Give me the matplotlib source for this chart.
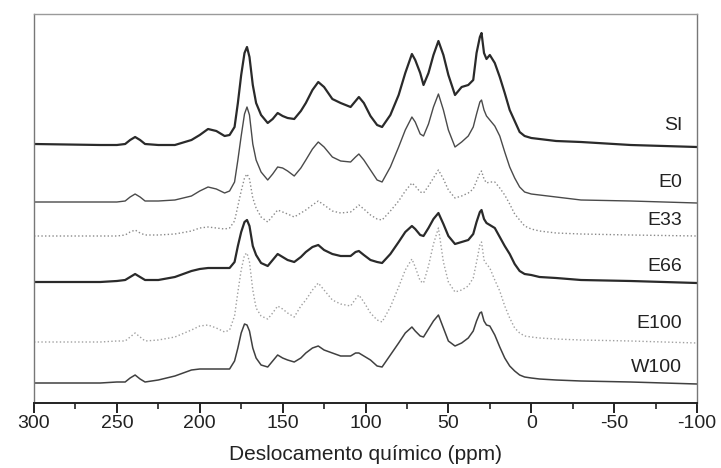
## load libraries
import matplotlib
matplotlib.use("Agg")
import matplotlib.pyplot as plt
from matplotlib.ticker import MultipleLocator

plt.rcParams['font.family'] = ['Liberation Sans', 'DejaVu Sans']

ppm = [300, 260, 250, 245, 242, 239, 236, 233, 225, 215,
       205, 200, 195, 190, 185, 182, 179, 177, 175, 173,
       171.5, 170, 168, 166, 163, 159, 156, 153, 150, 147,
       143, 139, 136, 132, 128.5, 125, 120, 115, 109, 106,
       104, 101, 97, 93, 90, 85, 80, 76, 72, 70,
       67, 65, 62, 59, 56, 53, 50, 46, 42, 38,
       35, 33, 31, 30, 28.5, 27, 25, 22, 19, 16,
       13, 10, 7, 4, 0, -5, -15, -30, -60, -100]

# intensities (arbitrary units) above each baseline
si = [1, 0, 0, 1, 5, 8, 5, 1, 0, 0,
      5, 10, 16, 14, 9, 10, 18, 42, 70, 92,
      98, 88, 60, 42, 30, 22, 26, 32, 29, 27,
      26, 34, 42, 55, 63, 58, 46, 42, 38, 44,
      48, 42, 29, 20, 18, 30, 50, 72, 91, 85,
      72, 60, 72, 90, 104, 90, 70, 50, 58, 60,
      65, 92, 108, 112, 92, 86, 90, 82, 68, 52,
      35, 24, 13, 9, 7, 6, 4, 3, 0, -2]
e0 = [0, 0, 0, 1, 5, 8, 5, 1, 1, 2,
      6, 11, 15, 13, 9, 11, 20, 42, 66, 88,
      95, 87, 58, 42, 30, 22, 28, 35, 34, 31,
      26, 34, 42, 53, 60, 55, 45, 41, 40, 45,
      48, 42, 32, 22, 20, 35, 55, 72, 85, 80,
      68, 66, 78, 95, 108, 92, 72, 55, 60, 66,
      75, 88, 100, 102, 92, 86, 82, 76, 66, 50,
      35, 24, 15, 10, 8, 7, 5, 2, 1, -1]
e33 = [0, 0, 0, 1, 4, 6, 3, 1, 1, 2,
       5, 8, 9, 8, 7, 8, 15, 30, 45, 58,
       62, 57, 38, 28, 19, 14, 20, 26, 24, 22,
       19, 23, 26, 31, 35, 31, 25, 23, 24, 28,
       31, 27, 21, 17, 16, 25, 35, 45, 53, 50,
       44, 43, 50, 58, 66, 57, 46, 38, 40, 43,
       47, 55, 63, 65, 57, 53, 54, 54, 48, 41,
       32, 22, 16, 10, 7, 5, 3, 2, 1, 0]
e66 = [0, 0, 1, 2, 5, 8, 5, 2, 2, 5,
       11, 13, 14, 14, 14, 14, 20, 36, 50, 60,
       62, 56, 36, 27, 19, 16, 22, 28, 25, 22,
       20, 25, 30, 35, 37, 32, 28, 26, 26, 30,
       31, 27, 22, 20, 19, 28, 40, 50, 56, 53,
       47, 46, 54, 63, 69, 58, 46, 38, 40, 42,
       48, 60, 70, 72, 63, 59, 57, 54, 45, 36,
       28, 18, 11, 8, 7, 5, 4, 2, 1, -1]
e100 = [0, 0, 1, 1, 5, 9, 5, 1, 2, 5,
        12, 16, 17, 14, 10, 12, 26, 50, 72, 87,
        89, 80, 52, 34, 26, 23, 29, 36, 33, 29,
        25, 36, 42, 52, 59, 52, 42, 38, 36, 43,
        47, 40, 29, 22, 20, 35, 55, 72, 83, 75,
        61, 59, 76, 98, 114, 80, 60, 50, 52, 56,
        64, 80, 97, 100, 82, 78, 74, 62, 51, 36,
        24, 14, 9, 6, 5, 4, 3, 2, 1, -1]
w100 = [0, 0, 1, 1, 5, 8, 4, 1, 3, 7,
        13, 14, 14, 14, 14, 14, 22, 35, 50, 59,
        58, 52, 35, 25, 18, 16, 22, 28, 25, 23,
        21, 25, 30, 35, 37, 33, 30, 27, 27, 30,
        30, 27, 23, 17, 16, 28, 40, 50, 56, 52,
        47, 46, 54, 62, 68, 55, 42, 37, 40, 45,
        52, 62, 70, 71, 62, 58, 57, 48, 36, 25,
        17, 12, 8, 6, 5, 4, 3, 2, 1, -1]

names = ['SI', 'E0', 'E33', 'E66', 'E100', 'W100']
spectra = [si, e0, e33, e66, e100, w100]
offsets = [258, 201, 167, 121, 61, 20]
label_y = [278, 221, 183, 137, 80, 35]

# line styles: solid dark vs faint dotted traces
styles = [
    dict(color='#2a2a2a', lw=1.6, ls='-'),
    dict(color='#4a4a4a', lw=1.0, ls='-'),
    dict(color='#8a8a8a', lw=1.0, ls=':'),
    dict(color='#2a2a2a', lw=1.6, ls='-'),
    dict(color='#a0a0a0', lw=1.0, ls=':'),
    dict(color='#404040', lw=1.1, ls='-'),
]

fig = plt.figure(figsize=(7.21, 4.68), dpi=100)
ax = fig.add_axes([34/721, 1 - 403/468, (697-34)/721, (403-14)/468])

for name, y, off, st, ly in zip(names, spectra, offsets, styles, label_y):
    ax.plot(ppm, [v + off for v in y], solid_joinstyle='round', **st)
    ax.text(-91, ly, name, ha='right', va='center', fontsize=14, color='#222222')

ax.set_xlim(300, -100)
ax.set_ylim(0, 389)
ax.set_yticks([])
ax.xaxis.set_major_locator(MultipleLocator(50))
ax.xaxis.set_minor_locator(MultipleLocator(25))
ax.tick_params(axis='x', which='major', direction='out', length=7, width=1.4,
               pad=2, labelsize=14, colors='#222222')
ax.tick_params(axis='x', which='minor', direction='out', length=4, width=1.2,
               colors='#222222')
ax.set_xticks(range(300, -101, -50))
ax.set_xticklabels([str(v) for v in range(300, -101, -50)])

for side in ['left', 'right']:
    ax.spines[side].set_color('#777777')
    ax.spines[side].set_linewidth(1.0)
ax.spines['top'].set_color('#9a9a9a')
ax.spines['top'].set_linewidth(1.0)
ax.spines['bottom'].set_color('#222222')
ax.spines['bottom'].set_linewidth(1.4)

ax.set_xlabel('Deslocamento químico (ppm)', fontsize=15, labelpad=9, color='#222222')

fig.savefig('out.png', dpi=100)
